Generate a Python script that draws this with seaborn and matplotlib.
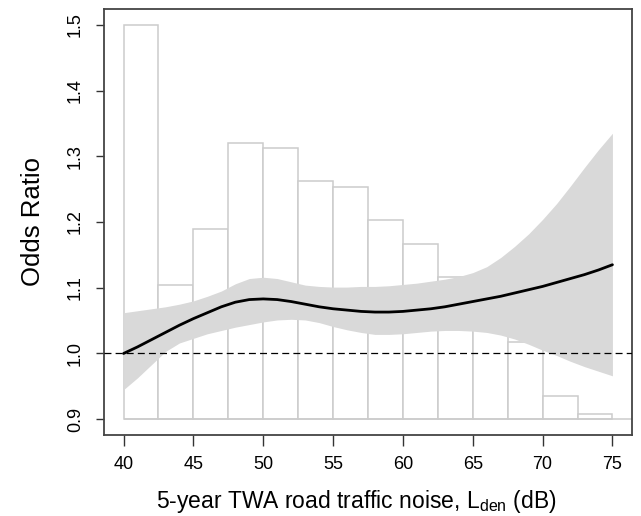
import numpy as np
import pandas as pd
import seaborn as sns
import matplotlib
matplotlib.use("Agg")
import matplotlib.pyplot as plt

# ---- data ----
noise_db = [40, 41, 42, 43, 44, 45, 46, 47, 48, 49, 50, 51, 52, 53, 54, 55, 56, 57,
            58, 59, 60, 61, 62, 63, 64, 65, 66, 67, 68, 69, 70, 71, 72, 73, 74, 75]
odds_ratio = [1.000, 1.010, 1.021, 1.032, 1.043, 1.053, 1.062, 1.071, 1.078, 1.082,
              1.083, 1.082, 1.079, 1.075, 1.071, 1.068, 1.066, 1.064, 1.063, 1.063,
              1.064, 1.066, 1.068, 1.071, 1.075, 1.079, 1.083, 1.087, 1.092, 1.097,
              1.102, 1.108, 1.114, 1.120, 1.127, 1.135]
ci_upper = [1.062, 1.065, 1.068, 1.071, 1.075, 1.080, 1.087, 1.095, 1.106, 1.114,
            1.116, 1.114, 1.109, 1.104, 1.102, 1.101, 1.101, 1.102, 1.102, 1.103,
            1.105, 1.107, 1.110, 1.113, 1.117, 1.123, 1.132, 1.146, 1.163, 1.182,
            1.204, 1.228, 1.255, 1.283, 1.310, 1.335]
ci_lower = [0.945, 0.963, 0.983, 1.003, 1.016, 1.023, 1.030, 1.035, 1.040, 1.044,
            1.048, 1.051, 1.052, 1.051, 1.047, 1.041, 1.036, 1.032, 1.029, 1.029,
            1.030, 1.032, 1.034, 1.035, 1.035, 1.034, 1.032, 1.028, 1.022, 1.014,
            1.005, 0.997, 0.988, 0.980, 0.973, 0.966]

# histogram of exposure distribution (bar tops on the odds-ratio scale, base 0.9)
hist_edges = [40, 42.5, 45, 47.5, 50, 52.5, 55, 57.5, 60, 62.5, 65, 67.5, 70, 72.5, 75]
hist_tops = [1.500, 1.104, 1.189, 1.320, 1.312, 1.262, 1.254, 1.203, 1.166, 1.116,
             1.070, 1.017, 0.936, 0.908]
hist_base = 0.9
reference_or = 1.0

x_ticks = [40, 45, 50, 55, 60, 65, 70, 75]
y_ticks = [0.9, 1.0, 1.1, 1.2, 1.3, 1.4, 1.5]
y_ticklabels = ["0.9", "1.0", "1.1", "1.2", "1.3", "1.4", "1.5"]

sns.set_style("white")
plt.rcParams["font.family"] = ["Liberation Sans", "DejaVu Sans"]
plt.rcParams["mathtext.fontset"] = "custom"
plt.rcParams["mathtext.rm"] = "Liberation Sans"
plt.rcParams["mathtext.it"] = "Liberation Sans"
plt.rcParams["lines.scale_dashes"] = False
plt.rcParams["text.color"] = "black"
plt.rcParams["axes.labelcolor"] = "black"

W, H = 641, 516
fig = plt.figure(figsize=(W / 100, H / 100), dpi=100)
L, R, T, B = 104, 632, 9, 435
ax = fig.add_axes([L / W, (H - B) / H, (R - L) / W, (B - T) / H])

df = pd.DataFrame({"noise": noise_db, "or": odds_ratio, "lo": ci_lower, "hi": ci_upper})

# histogram bars
lefts = hist_edges[:-1]
widths = np.diff(hist_edges)
heights = np.array(hist_tops) - hist_base
ax.bar(lefts, heights, width=widths, bottom=hist_base, align="edge",
       facecolor="white", edgecolor="#cccccc", linewidth=1.1, zorder=1)
xlim = (38.6, 76.4)
ax.hlines(hist_base, hist_edges[0], xlim[1], color="#cccccc", linewidth=1.1, zorder=1)

# confidence band
ax.fill_between(df["noise"], df["lo"], df["hi"], color="#d9d9d9", linewidth=0, zorder=2)

# reference line
ax.axhline(reference_or, color="black", linewidth=0.9, linestyle=(0, (5, 3)), zorder=3)

# spline estimate
sns.lineplot(data=df, x="noise", y="or", color="black", linewidth=2.0, ax=ax, zorder=4)

ax.set_xlim(*xlim)
ax.set_ylim(0.876, 1.524)
ax.set_xticks(x_ticks)
ax.set_xticklabels([str(t) for t in x_ticks], fontsize=13)
ax.set_yticks(y_ticks)
ax.set_yticklabels(y_ticklabels, fontsize=13, rotation=90, va="center")
ax.tick_params(axis="x", direction="out", length=8, width=1, color="#333333", pad=7,
               bottom=True, labelcolor="black")
ax.tick_params(axis="y", direction="out", length=5.5, width=1, color="#333333", pad=9,
               left=True, labelcolor="black")
for s in ax.spines.values():
    s.set_color("#444444")
    s.set_linewidth(1.3)

ax.set_xlabel(r"5-year TWA road traffic noise, L$_{\mathrm{den}}$ (dB)", fontsize=16.5)
ax.xaxis.set_label_coords(0.478, -0.125)
ax.set_ylabel("Odds Ratio", fontsize=18.5)
ax.yaxis.set_label_coords(-0.112, 0.5)

fig.savefig("out.png", dpi=100)
